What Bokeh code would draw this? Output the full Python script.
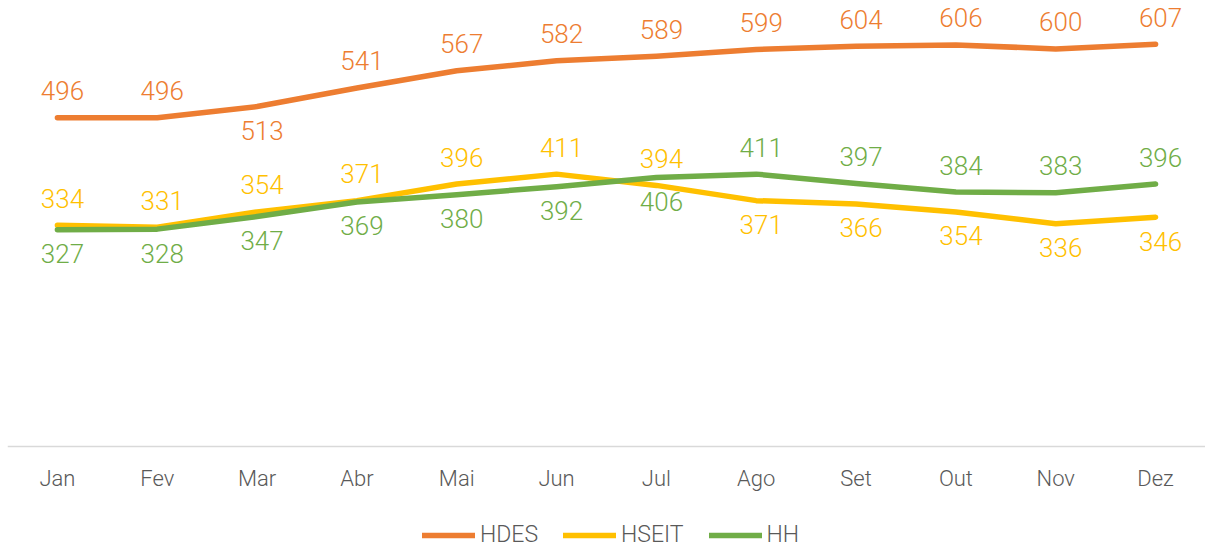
from bokeh.plotting import figure
from bokeh.models import ColumnDataSource, Range1d, FactorRange, Legend, LegendItem
from bokeh.core.properties import value
from bokeh.embed import file_html
from bokeh.resources import INLINE

months = ["Jan", "Fev", "Mar", "Abr", "Mai", "Jun", "Jul", "Ago", "Set", "Out", "Nov", "Dez"]
hdes = [496, 496, 513, 541, 567, 582, 589, 599, 604, 606, 600, 607]
hseit = [334, 331, 354, 371, 396, 411, 394, 371, 366, 354, 336, 346]
hh = [327, 328, 347, 369, 380, 392, 406, 411, 397, 384, 383, 396]
# label placement relative to the point: "a" above, "b" below
hdes_pos = ["a", "a", "b", "a", "a", "a", "a", "a", "a", "a", "a", "a"]
hseit_pos = ["a", "a", "a", "a", "a", "a", "a", "b", "b", "b", "b", "b"]
hh_pos = ["b", "b", "b", "b", "b", "b", "b", "a", "a", "a", "a", "a"]

FONT = "Roboto Light"
GRAY = "#595959"
series = [
    ("HDES", hdes, hdes_pos, "#ED7D31"),
    ("HSEIT", hseit, hseit_pos, "#FFC000"),
    ("HH", hh, hh_pos, "#70AD47"),
]

p = figure(width=1205, height=549,
           x_range=FactorRange(*months, range_padding=0),
           y_range=Range1d(-155.4, 673),
           output_backend="svg", toolbar_location=None,
           y_axis_location=None,
           min_border_left=7, min_border_right=0, min_border_top=0, min_border_bottom=0)
p.outline_line_color = None
p.grid.visible = False
p.background_fill_color = "white"
p.border_fill_color = "white"

ax = p.xaxis[0]
ax.fixed_location = 0
ax.axis_line_color = "#d9d9d9"
ax.axis_line_width = 1.5
ax.major_tick_line_color = None
ax.minor_tick_line_color = None
ax.major_label_standoff = 13
ax.major_label_text_font = FONT
ax.major_label_text_font_size = "22px"
ax.major_label_text_color = GRAY

items = []
for name, vals, pos, color in series:
    src = ColumnDataSource(dict(
        m=months, v=vals,
        t=[str(v) for v in vals],
        off=[-27 if q == "a" else 24 for q in pos],
    ))
    r = p.line("m", "v", source=src, line_color=color, line_width=5.5,
               line_cap="round", line_join="round")
    p.text("m", "v", text="t", source=src, y_offset="off", x_offset=5,
           text_align="center", text_baseline="middle",
           text_font=value(FONT), text_font_size="26px", text_color=color)
    items.append(LegendItem(label=name, renderers=[r]))

legend = Legend(items=items, orientation="horizontal", location=(415, 1),
                glyph_width=53, glyph_height=26, label_standoff=5, spacing=25,
                padding=0, margin=0, border_line_color=None, background_fill_alpha=0,
                label_text_font=FONT, label_text_font_size="23px", label_text_color=GRAY)
p.add_layout(legend)

open("out.html", "w").write(file_html(p, INLINE))
